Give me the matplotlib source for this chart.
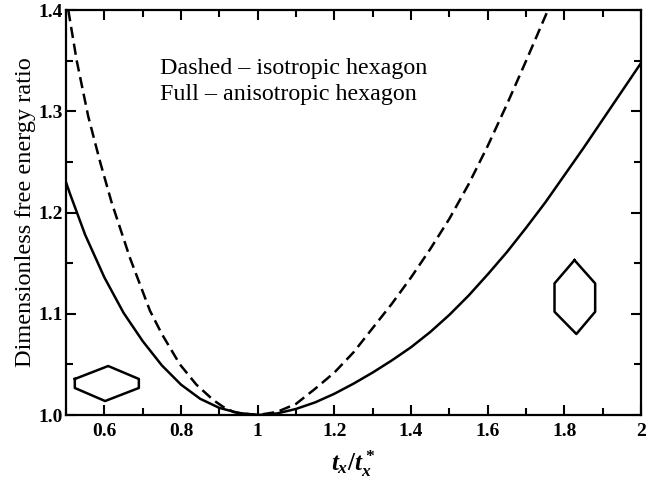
import numpy as np
import matplotlib
matplotlib.use('Agg')
import matplotlib.pyplot as plt
from matplotlib.ticker import MultipleLocator, FormatStrFormatter, FuncFormatter

plt.rcParams['font.family'] = 'Liberation Serif'
plt.rcParams['mathtext.fontset'] = 'custom'
plt.rcParams['mathtext.it'] = 'Liberation Serif:italic:bold'
plt.rcParams['mathtext.rm'] = 'Liberation Serif:bold'

# anisotropic hexagon (full line)
x_full = [0.5, 0.51, 0.55, 0.6, 0.65, 0.7, 0.75, 0.8, 0.85, 0.9, 0.95, 1.0,
          1.05, 1.1, 1.15, 1.2, 1.25, 1.3, 1.35, 1.4, 1.45, 1.5, 1.55, 1.6, 1.65,
          1.7, 1.75, 1.8, 1.85, 1.9, 1.95, 2.0]
y_full = [1.230, 1.219, 1.178, 1.136, 1.101, 1.073, 1.049, 1.030, 1.016, 1.007, 1.002, 1.000,
          1.0015, 1.006, 1.0125, 1.021, 1.031, 1.042, 1.054, 1.067, 1.082, 1.099, 1.118,
          1.139, 1.161, 1.185, 1.210, 1.237, 1.264, 1.292, 1.320, 1.348]

# isotropic hexagon (dashed line)
x_dash = [0.506, 0.528, 0.558, 0.589, 0.619, 0.667, 0.719, 0.75, 0.797, 0.84, 0.884,
          0.91, 0.937, 0.96, 1.0, 1.05, 1.1, 1.15, 1.2, 1.25, 1.3, 1.35, 1.4, 1.45,
          1.5, 1.55, 1.6, 1.65, 1.7, 1.75, 1.757]
y_dash = [1.400, 1.350, 1.295, 1.250, 1.210, 1.155, 1.103, 1.080, 1.050, 1.030, 1.0148,
          1.008, 1.003, 1.0015, 1.000, 1.003, 1.011, 1.026, 1.042, 1.062, 1.086, 1.110,
          1.136, 1.164, 1.194, 1.228, 1.266, 1.307, 1.350, 1.394, 1.400]

# hexagon sketches (outline vertices, data units)
hex_flat_x = [0.523, 0.610, 0.690, 0.690, 0.602, 0.523, 0.523]
hex_flat_y = [1.0356, 1.0484, 1.0356, 1.0267, 1.0138, 1.0267, 1.0356]
hex_tall_x = [1.826, 1.880, 1.880, 1.831, 1.774, 1.774, 1.826]
hex_tall_y = [1.153, 1.130, 1.102, 1.080, 1.102, 1.130, 1.153]

fig = plt.figure(figsize=(6.47, 4.82), dpi=100)
ax = fig.add_axes([0.102, 0.139, 0.889, 0.840])

ax.plot(x_full, y_full, 'k-', linewidth=1.8)
ax.plot(x_dash, y_dash, 'k--', linewidth=1.8, dashes=(4.5, 2.3))
ax.plot(hex_flat_x, hex_flat_y, 'k-', linewidth=1.8)
ax.plot(hex_tall_x, hex_tall_y, 'k-', linewidth=1.8)

ax.set_xlim(0.5, 2.0)
ax.set_ylim(1.0, 1.4)

ax.xaxis.set_major_locator(MultipleLocator(0.2))
ax.xaxis.set_minor_locator(MultipleLocator(0.1))
ax.yaxis.set_major_locator(MultipleLocator(0.1))
ax.yaxis.set_minor_locator(MultipleLocator(0.05))
ax.xaxis.set_major_formatter(FuncFormatter(lambda v, p: '%g' % round(v, 2)))
ax.yaxis.set_major_formatter(FormatStrFormatter('%.1f'))

ax.tick_params(which='both', direction='in', top=True, right=True, width=1.5)
ax.tick_params(which='major', length=7.5, labelsize=14)
ax.tick_params(axis='x', which='major', pad=6)
ax.tick_params(axis='y', which='major', pad=2)
ax.tick_params(which='minor', length=5)
for lab in ax.get_xticklabels() + ax.get_yticklabels():
    lab.set_fontweight('bold')
for s in ax.spines.values():
    s.set_linewidth(1.6)

ax.set_ylabel('Dimensionless free energy ratio', fontsize=17.5)
ax.yaxis.set_label_coords(-0.052, 0.5)
ax.set_xlabel(r'$t_x/t_x^*$', fontsize=18, labelpad=6)

ax.text(0.745, 1.3368, 'Dashed \u2013 isotropic hexagon', fontsize=17.3)
ax.text(0.745, 1.3111, 'Full \u2013 anisotropic hexagon', fontsize=17.3)

fig.savefig('out.png', dpi=100)
